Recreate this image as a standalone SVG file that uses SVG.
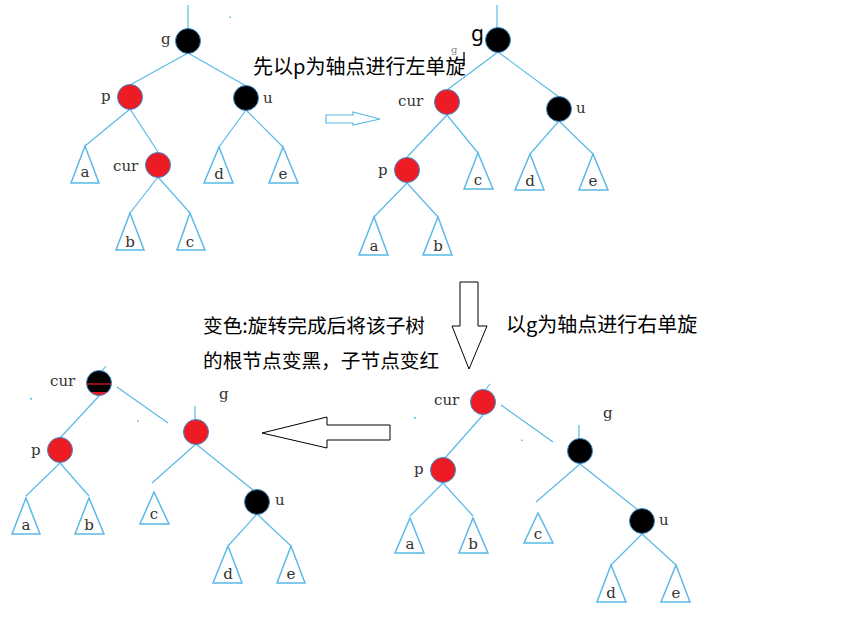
<svg xmlns="http://www.w3.org/2000/svg" width="848" height="626" viewBox="0 0 848 626">
<style>
.e{stroke:#5ab9e6;stroke-width:1.2;fill:none}
.t{stroke:#5ab9e6;stroke-width:1.5;fill:#fff;stroke-linejoin:miter}
.r{fill:#ed1c24;stroke:#3a8cc8;stroke-width:1}
.b{fill:#000;stroke:#3a8cc8;stroke-width:1}
.l{font-family:"DejaVu Serif","Liberation Serif",serif;font-size:15px;fill:#333}
.tl{font-family:"DejaVu Serif","Liberation Serif",serif;font-size:15px;fill:#333;text-anchor:middle}
.c{font-family:"Noto Sans CJK SC","Noto Sans",sans-serif;font-size:20px;fill:#000}
.ar{fill:#fff;stroke:#000;stroke-width:1}
</style>
<defs>
<clipPath id="cc"><circle cx="99" cy="383" r="12.5"/></clipPath>
</defs>
<rect width="848" height="626" fill="#fff"/>

<g id="connectors">
<line class="e" x1="188" y1="5" x2="188" y2="29"/>
<line class="e" x1="188" y1="53" x2="130" y2="85"/>
<line class="e" x1="188" y1="53" x2="246" y2="86"/>
<line class="e" x1="130" y1="109" x2="85" y2="146"/>
<line class="e" x1="130" y1="109" x2="158" y2="152"/>
<line class="e" x1="158" y1="177" x2="130" y2="213"/>
<line class="e" x1="158" y1="177" x2="190" y2="213"/>
<line class="e" x1="246" y1="110" x2="219" y2="147"/>
<line class="e" x1="246" y1="110" x2="283" y2="147"/>
<line class="e" x1="497" y1="5" x2="497" y2="28"/>
<line class="e" x1="498" y1="52" x2="447" y2="90"/>
<line class="e" x1="498" y1="52" x2="559" y2="97"/>
<line class="e" x1="447" y1="115" x2="407" y2="157"/>
<line class="e" x1="447" y1="115" x2="478" y2="153"/>
<line class="e" x1="407" y1="183" x2="374" y2="217"/>
<line class="e" x1="407" y1="183" x2="438" y2="217"/>
<line class="e" x1="559" y1="121" x2="530" y2="154"/>
<line class="e" x1="559" y1="121" x2="593" y2="154"/>
<line class="e" x1="486" y1="389" x2="490" y2="384"/>
<line class="e" x1="501" y1="405" x2="553" y2="442"/>
<line class="e" x1="579" y1="425" x2="579" y2="438"/>
<line class="e" x1="483" y1="415" x2="445" y2="458"/>
<line class="e" x1="580" y1="464" x2="536" y2="502"/>
<line class="e" x1="580" y1="464" x2="638" y2="510"/>
<line class="e" x1="443" y1="483" x2="410" y2="516"/>
<line class="e" x1="443" y1="483" x2="473" y2="516"/>
<line class="e" x1="642" y1="534" x2="611" y2="565"/>
<line class="e" x1="642" y1="534" x2="676" y2="565"/>
<line class="e" x1="102" y1="371" x2="106" y2="366"/>
<line class="e" x1="117" y1="387" x2="168" y2="423"/>
<line class="e" x1="195" y1="406" x2="195" y2="420"/>
<line class="e" x1="99" y1="396" x2="60" y2="438"/>
<line class="e" x1="196" y1="444" x2="152" y2="483"/>
<line class="e" x1="196" y1="444" x2="253" y2="490"/>
<line class="e" x1="60" y1="463" x2="26" y2="496"/>
<line class="e" x1="60" y1="463" x2="89" y2="496"/>
<line class="e" x1="257" y1="514" x2="228" y2="546"/>
<line class="e" x1="257" y1="514" x2="291" y2="546"/>
</g>

<rect x="229.5" y="16.5" width="1.5" height="1.5" fill="#5ab9e6"/>
<rect x="414" y="417" width="2" height="1.5" fill="#5ab9e6"/>
<rect x="521" y="439.5" width="1.5" height="1.5" fill="#5ab9e6"/>
<rect x="30" y="398" width="2" height="1.5" fill="#5ab9e6"/>
<rect x="137" y="420.5" width="1.5" height="1.5" fill="#5ab9e6"/>
<text x="451" y="53" style="font-family:'DejaVu Serif',serif;font-size:10px;fill:#888">g</text>
<line x1="464" y1="52" x2="464" y2="66" stroke="#000" stroke-width="1.3"/>

<g id="arrow-right">
<polygon points="326,115 353,115 353,112 380,119 353,125 353,123 326,123" fill="#fff" stroke="#5ab9e6" stroke-width="1.2"/>
</g>
<g id="arrow-down">
<polygon class="ar" points="460,282 478,282 478,326 487,326 469,369 452,326 460,326"/>
</g>
<g id="arrow-left">
<polygon class="ar" points="390,425 390,440 327,440 327,448 262,433 327,417 327,425"/>
</g>

<text class="c" x="253" y="74">先以p为轴点进行左单旋</text>
<text class="c" x="203" y="333" style="font-size:19.7px">变色:旋转完成后将该子树</text>
<text class="c" x="203" y="368" style="font-size:19.7px">的根节点变黑，子节点变红</text>
<text class="c" x="506" y="332">以g为轴点进行右单旋</text>

<g id="t1-g"><circle class="b" cx="188" cy="41" r="12.5"/><text class="l" x="161" y="44">g</text></g>
<g id="t1-p"><circle class="r" cx="130" cy="97" r="12.5"/><text class="l" x="101" y="101">p</text></g>
<g id="t1-u"><circle class="b" cx="246" cy="98" r="12.5"/><text class="l" x="263" y="103">u</text></g>
<g id="t1-cur"><circle class="r" cx="158" cy="165" r="12.5"/><text class="l" x="113" y="171">cur</text></g>
<g id="t1-a"><polygon class="t" points="85,146 71,183 99,183"/><text class="tl" x="85" y="177">a</text></g>
<g id="t1-b"><polygon class="t" points="130,213 116,250 144,250"/><text class="tl" x="130" y="247">b</text></g>
<g id="t1-c"><polygon class="t" points="190,213 177,250 205,250"/><text class="tl" x="190" y="247">c</text></g>
<g id="t1-d"><polygon class="t" points="219,147 204,183 233,183"/><text class="tl" x="219" y="179">d</text></g>
<g id="t1-e"><polygon class="t" points="283,147 269,183 298,183"/><text class="tl" x="283" y="179">e</text></g>

<g id="t2-g"><circle class="b" cx="498" cy="40" r="12.5"/><text x="471" y="41" style="font-family:'Noto Sans','DejaVu Sans',sans-serif;font-size:21px;fill:#000">g</text></g>
<g id="t2-cur"><circle class="r" cx="447" cy="102" r="12.5"/><text class="l" x="398" y="106">cur</text></g>
<g id="t2-u"><circle class="b" cx="559" cy="109" r="12.5"/><text class="l" x="576" y="113">u</text></g>
<g id="t2-p"><circle class="r" cx="407" cy="170" r="12.5"/><text class="l" x="378" y="175">p</text></g>
<g id="t2-c"><polygon class="t" points="478,153 464,189 493,189"/><text class="tl" x="478" y="185">c</text></g>
<g id="t2-d"><polygon class="t" points="530,154 515,190 544,190"/><text class="tl" x="530" y="186">d</text></g>
<g id="t2-e"><polygon class="t" points="593,154 579,190 608,190"/><text class="tl" x="593" y="186">e</text></g>
<g id="t2-a"><polygon class="t" points="374,217 359,255 388,255"/><text class="tl" x="374" y="251">a</text></g>
<g id="t2-b"><polygon class="t" points="438,217 423,255 452,255"/><text class="tl" x="438" y="251">b</text></g>

<g id="t3-cur"><circle class="r" cx="483" cy="402" r="12.5"/><text class="l" x="434" y="405">cur</text></g>
<g id="t3-g"><circle class="b" cx="580" cy="451" r="12.5"/><text class="l" x="603" y="418">g</text></g>
<g id="t3-p"><circle class="r" cx="443" cy="470" r="12.5"/><text class="l" x="414" y="474">p</text></g>
<g id="t3-u"><circle class="b" cx="642" cy="521" r="12.5"/><text class="l" x="659" y="525">u</text></g>
<g id="t3-c"><polygon class="t" points="538,513 524,543 553,543"/><text class="tl" x="538" y="539">c</text></g>
<g id="t3-a"><polygon class="t" points="410,518 395,553 424,553"/><text class="tl" x="410" y="549">a</text></g>
<g id="t3-b"><polygon class="t" points="473,518 459,553 488,553"/><text class="tl" x="473" y="549">b</text></g>
<g id="t3-d"><polygon class="t" points="611,565 597,602 626,602"/><text class="tl" x="611" y="598">d</text></g>
<g id="t3-e"><polygon class="t" points="676,565 661,602 690,602"/><text class="tl" x="676" y="598">e</text></g>

<g id="t4-cur">
<circle cx="99" cy="383" r="12.5" fill="#000"/>
<rect x="85" y="392" width="30" height="10" fill="#ed1c24" clip-path="url(#cc)"/>
<line x1="87" y1="384" x2="111" y2="384" stroke="#ed1c24" stroke-width="1.2"/>
<circle cx="99" cy="383" r="12.5" fill="none" stroke="#3a8cc8" stroke-width="1"/>
<text class="l" x="50" y="386">cur</text>
</g>
<g id="t4-g"><circle class="r" cx="196" cy="432" r="12.5"/><text class="l" x="219" y="399">g</text></g>
<g id="t4-p"><circle class="r" cx="60" cy="450" r="12.5"/><text class="l" x="31" y="455">p</text></g>
<g id="t4-u"><circle class="b" cx="257" cy="502" r="12.5"/><text class="l" x="275" y="505">u</text></g>
<g id="t4-c"><polygon class="t" points="154,492 140,524 169,524"/><text class="tl" x="154" y="519">c</text></g>
<g id="t4-a"><polygon class="t" points="26,498 12,534 40,534"/><text class="tl" x="26" y="530">a</text></g>
<g id="t4-b"><polygon class="t" points="89,498 75,534 104,534"/><text class="tl" x="89" y="530">b</text></g>
<g id="t4-d"><polygon class="t" points="228,546 213,583 242,583"/><text class="tl" x="228" y="579">d</text></g>
<g id="t4-e"><polygon class="t" points="291,546 277,583 305,583"/><text class="tl" x="291" y="579">e</text></g>
</svg>
